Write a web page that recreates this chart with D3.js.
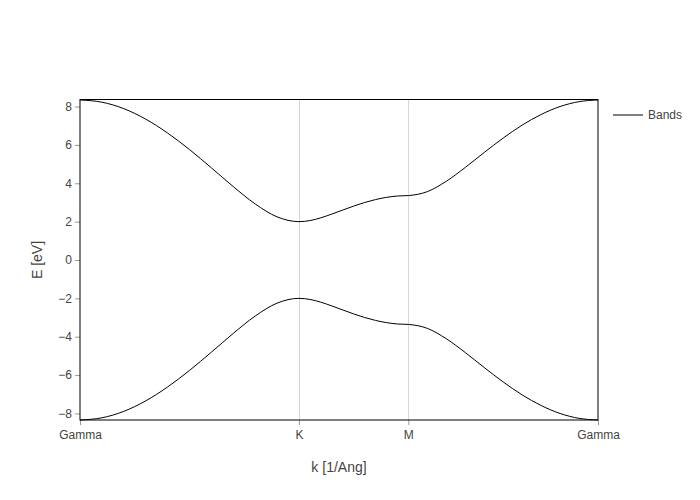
<!DOCTYPE html>
<html lang="en">
  <head>
    <meta charset="utf-8" />
    <title>band structure</title>
    <script type="text/javascript" src="https://d3js.org/d3.v7.min.js"></script>
    <style>
      body { margin: 0; background: #fff; }
      text { font-family: "Liberation Sans", Arial, sans-serif; }
    </style>
  </head>
  <body>
    <div id="graph"></div>

    <script type="text/javascript">
      /********************************
       * data
       ********************************/

      // path coordinate along Gamma-K-M-Gamma [1/Ang]
      const kPath = [
        0, 0.170, 0.341, 0.511, 0.681, 0.852, 1.022, 1.192, 1.362, 1.533, 1.703,
        1.788, 1.873, 1.958, 2.044, 2.129, 2.214, 2.299, 2.384, 2.469, 2.554,
        2.702, 2.849, 2.997, 3.144, 3.292, 3.439, 3.587, 3.734, 3.882, 4.029,
      ];

      const upperBand = [
        8.343, 8.229, 7.891, 7.346, 6.623, 5.758, 4.805, 3.828, 2.926, 2.250, 2.0,
        2.055, 2.199, 2.393, 2.605, 2.812, 2.998, 3.151, 3.266, 3.336, 3.360,
        3.566, 4.106, 4.828, 5.607, 6.360, 7.033, 7.589, 8.003, 8.257, 8.343,
      ];

      const lowerBand = [
        -8.343, -8.229, -7.891, -7.346, -6.623, -5.758, -4.805, -3.828, -2.926, -2.250, -2.0,
        -2.055, -2.199, -2.393, -2.605, -2.812, -2.998, -3.151, -3.266, -3.336, -3.360,
        -3.566, -4.106, -4.828, -5.607, -6.360, -7.033, -7.589, -8.003, -8.257, -8.343,
      ];

      const tickPositions = [0, 1.703, 2.554, 4.029];
      const tickLabels = ["Gamma", "K", "M", "Gamma"];
      const yTicks = [-8, -6, -4, -2, 0, 2, 4, 6, 8];
      const seriesName = "Bands";

      /***************************
       * create svg
       **************************/

      const width = 700;
      const height = 500;
      const margin = { top: 100, right: 102, bottom: 80, left: 80 };

      const svg = d3
        .select("div#graph")
        .append("svg")
        .attr("width", width)
        .attr("height", height);

      /****************************
       * scale
       *************************/

      const allE = upperBand.concat(lowerBand);

      const xScale = d3
        .scaleLinear()
        .domain(d3.extent(kPath))
        .range([margin.left, width - margin.right]);

      const yScale = d3
        .scaleLinear()
        .domain(d3.extent(allE))
        .range([height - margin.bottom, margin.top]);

      /*********************************
       * grid at high symmetry points
       *******************************/

      svg
        .append("g")
        .selectAll("line")
        .data(tickPositions.slice(1, -1))
        .enter()
        .append("line")
        .attr("x1", (d) => Math.round(xScale(d)) + 0.5)
        .attr("x2", (d) => Math.round(xScale(d)) + 0.5)
        .attr("y1", margin.top)
        .attr("y2", height - margin.bottom)
        .attr("stroke", "#d6d6d6")
        .attr("stroke-width", 1);

      /*********************************
       * axes
       *******************************/

      const xAxis = d3
        .axisBottom(xScale)
        .tickValues(tickPositions)
        .tickFormat((d, i) => tickLabels[i])
        .tickSize(5)
        .tickPadding(5);

      const yAxis = d3
        .axisLeft(yScale)
        .tickValues(yTicks)
        .tickFormat((d) => (d < 0 ? "\u2212" + Math.abs(d) : d))
        .tickSize(5)
        .tickPadding(3);

      const xAxisGroup = svg
        .append("g")
        .attr("transform", `translate(0,${height - margin.bottom})`)
        .call(xAxis);

      const yAxisGroup = svg
        .append("g")
        .attr("transform", `translate(${margin.left},0)`)
        .call(yAxis);

      [xAxisGroup, yAxisGroup].forEach((g) => {
        g.select(".domain").remove();
        g.selectAll(".tick line").attr("stroke", "#999");
        g.selectAll(".tick text")
          .attr("fill", "#444")
          .attr("font-size", 12)
          .style("font-family", "'Liberation Sans', Arial, sans-serif");
      });

      // frame around plot area (mirrored axes)
      svg
        .append("rect")
        .attr("x", margin.left)
        .attr("y", margin.top - 0.5)
        .attr("width", width - margin.left - margin.right)
        .attr("height", height - margin.top - margin.bottom + 0.5)
        .attr("fill", "none")
        .attr("stroke", "#000")
        .attr("stroke-width", 1);

      // axis titles
      svg
        .append("text")
        .attr("x", (margin.left + width - margin.right) / 2)
        .attr("y", 472)
        .attr("text-anchor", "middle")
        .attr("font-size", 14)
        .attr("fill", "#444")
        .text("k [1/Ang]");

      svg
        .append("text")
        .attr("x", -(margin.top + height - margin.bottom) / 2)
        .attr("y", 42)
        .attr("text-anchor", "middle")
        .attr("transform", "rotate(-90)")
        .attr("font-size", 14)
        .attr("fill", "#444")
        .text("E [eV]");

      /********************************
       * bands
       * *******************************/

      const line = d3
        .line()
        .curve(d3.curveMonotoneX)
        .x((d) => xScale(d[0]))
        .y((d) => yScale(d[1]));

      [upperBand, lowerBand].forEach((band) => {
        svg
          .append("path")
          .datum(kPath.map((k, i) => [k, band[i]]))
          .attr("d", line)
          .attr("fill", "none")
          .attr("stroke", "#000")
          .attr("stroke-width", 1);
      });

      /********************************
       * legend
       * *******************************/

      const legend = svg.append("g").attr("transform", "translate(613,115)");

      legend
        .append("line")
        .attr("x1", 0)
        .attr("x2", 30)
        .attr("y1", 0)
        .attr("y2", 0)
        .attr("stroke", "#000")
        .attr("stroke-width", 1);

      legend
        .append("text")
        .attr("x", 35)
        .attr("y", 4)
        .attr("font-size", 12)
        .attr("fill", "#444")
        .text(seriesName);
    </script>
  </body>
</html>
